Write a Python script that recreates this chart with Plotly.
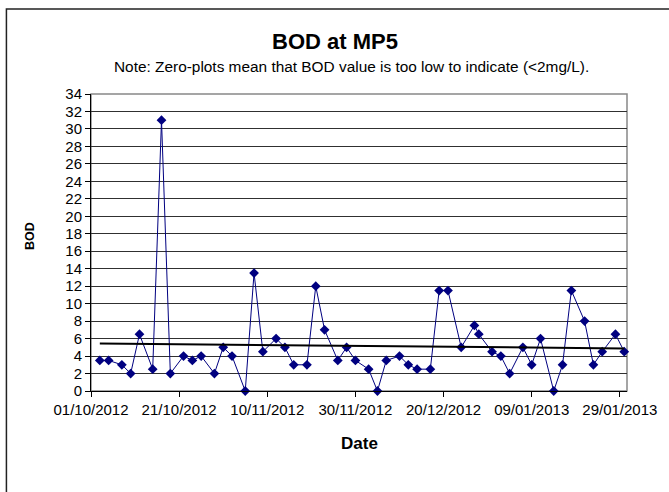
import numpy as np
import pandas as pd
import plotly.graph_objects as go

dates = ["2012-10-03","2012-10-05","2012-10-08","2012-10-10","2012-10-12","2012-10-15","2012-10-17",
         "2012-10-19","2012-10-22","2012-10-24","2012-10-26","2012-10-29","2012-10-31",
         "2012-11-02","2012-11-05","2012-11-07","2012-11-09","2012-11-12","2012-11-14","2012-11-16",
         "2012-11-19","2012-11-21","2012-11-23","2012-11-26","2012-11-28","2012-11-30",
         "2012-12-03","2012-12-05","2012-12-07","2012-12-10","2012-12-12","2012-12-14","2012-12-17",
         "2012-12-19","2012-12-21","2012-12-24","2012-12-27","2012-12-28","2012-12-31",
         "2013-01-02","2013-01-04","2013-01-07","2013-01-09","2013-01-11","2013-01-14","2013-01-16",
         "2013-01-18","2013-01-21","2013-01-23","2013-01-25","2013-01-28","2013-01-30"]
bod = [3.5,3.5,3,2,6.5,2.5,31,2,4,3.5,4,2,5,
       4,0,13.5,4.5,6,5,3,3,12,7,3.5,5,3.5,
       2.5,0,3.5,4,3,2.5,2.5,11.5,11.5,5,7.5,6.5,4.5,
       4,2,5,3,6,0,3,11.5,8,3,4.5,6.5,4.5]
tick_dates = ["2012-10-01","2012-10-21","2012-11-10","2012-11-30","2012-12-20","2013-01-09","2013-01-29"]
tick_labels = ["01/10/2012","21/10/2012","10/11/2012","30/11/2012","20/12/2012","09/01/2013","29/01/2013"]
y_ticks = list(range(0, 35, 2))

# linear trend line (least squares on day numbers)
d = pd.to_datetime(dates)
days = (d - d[0]).days.values.astype(float)
slope, intercept = np.polyfit(days, np.array(bod, dtype=float), 1)
trend_x = [d[0], d[-1]]
trend_y = [intercept, intercept + slope * days[-1]]

FONT = "Liberation Sans, Arial, sans-serif"

fig = go.Figure()
fig.add_trace(go.Scatter(
    x=dates, y=bod, mode="lines+markers",
    line=dict(color="#000080", width=1),
    marker=dict(symbol="diamond", size=7.5, color="#000080"),
    showlegend=False, cliponaxis=False))
fig.add_trace(go.Scatter(
    x=trend_x, y=trend_y, mode="lines",
    line=dict(color="black", width=2), showlegend=False))

fig.update_layout(
    width=669, height=492,
    margin=dict(l=91, r=33, t=94, b=101),
    paper_bgcolor="white", plot_bgcolor="white",
    font=dict(family=FONT, color="black", size=15),
    xaxis=dict(
        type="date", range=["2012-10-01", "2013-01-30 15:00"],
        tickvals=tick_dates, ticktext=tick_labels,
        ticks="outside", ticklen=5, tickcolor="black",
        showline=True, linecolor="black", linewidth=1,
        showgrid=False, zeroline=False,
        tickfont=dict(size=15)),
    yaxis=dict(
        range=[0, 34], tickvals=y_ticks,
        ticks="outside", ticklen=5, tickcolor="black",
        showline=True, linecolor="black", linewidth=1,
        showgrid=True, gridcolor="#303030", gridwidth=1,
        zeroline=False, tickfont=dict(size=15)),
    shapes=[
        dict(type="rect", xref="paper", yref="paper", x0=0, x1=1, y0=0, y1=1,
             line=dict(color="#888888", width=1.5), layer="below"),
        dict(type="rect", xref="paper", yref="paper",
             x0=(5 - 91) / 545, x1=(700 - 91) / 545,
             y0=(391 - 520) / 297, y1=(391 - 9) / 297,
             line=dict(color="#222222", width=1.5), layer="below"),
    ],
    annotations=[
        dict(text="<b>BOD at MP5</b>", xref="paper", yref="paper",
             x=(339 - 91) / 545, y=(391 - 41) / 297, showarrow=False,
             xanchor="center", yanchor="middle", font=dict(size=22)),
        dict(text="Note: Zero-plots mean that BOD value is too low to indicate (<2mg/L).",
             xref="paper", yref="paper",
             x=(356 - 91) / 545, y=(391 - 66) / 297, showarrow=False,
             xanchor="center", yanchor="middle", font=dict(size=15.4)),
        dict(text="<b>Date</b>", xref="paper", yref="paper",
             x=(364 - 91) / 545, y=(391 - 443) / 297, showarrow=False,
             xanchor="center", yanchor="middle", font=dict(size=17)),
        dict(text="<b>BOD</b>", xref="paper", yref="paper",
             x=(29 - 91) / 545, y=(391 - 236) / 297, showarrow=False,
             textangle=-90, xanchor="center", yanchor="middle", font=dict(size=12.5)),
    ],
)

fig.write_html("out.html", config={"displayModeBar": False},
               post_script="document.body.style.margin='0';document.body.style.overflow='hidden';")
